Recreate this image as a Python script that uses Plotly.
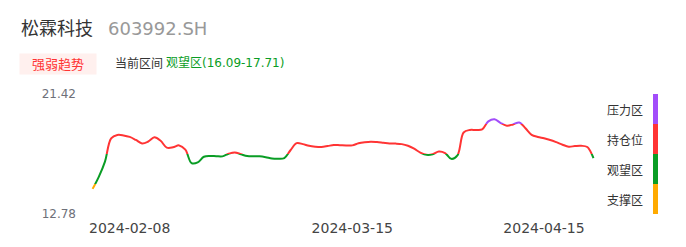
import pandas as pd
import plotly.graph_objects as go

# ---------------- data ----------------
stock_name = "松霖科技"
stock_code = "603992.SH"
badge_text = "强弱趋势"
range_label = "当前区间"
range_value = "观望区(16.09-17.71)"

dates = pd.date_range("2024-02-02", "2024-04-23", freq="D")
values = [
    14.59, 15.45, 16.55, 18.23, 18.47, 18.44, 18.33, 18.11, 17.86, 18.00,
    18.30, 18.05, 17.56, 17.58, 17.72, 17.41, 16.45, 16.50, 16.90, 16.96,
    16.94, 16.93, 17.12, 17.21, 17.08, 16.95, 16.93, 16.93, 16.87, 16.78,
    16.76, 16.81, 17.37, 17.88, 17.81, 17.69, 17.63, 17.61, 17.67, 17.75,
    17.73, 17.71, 17.72, 17.87, 17.95, 17.99, 17.96, 17.91, 17.86, 17.85,
    17.81, 17.69, 17.48, 17.20, 17.04, 17.08, 17.28, 17.17, 16.75, 17.00,
    18.65, 18.83, 18.83, 18.87, 19.45, 19.60, 19.33, 19.14, 19.23, 19.37,
    18.95, 18.48, 18.33, 18.23, 18.11, 17.95, 17.77, 17.63, 17.67, 17.69,
    17.60, 16.80,
]

# zone boundaries (bottom -> top) and names / colours
zone_bounds = [12.78, 14.94, 17.10, 19.26, 21.42]
zone_names = ["支撑区", "观望区", "持仓位", "压力区"]
zone_colors = ["#ffaa00", "#0a9d25", "#ff3434", "#a24dfa"]

y_tick_vals = zone_bounds
y_tick_text = ["12.78", "", "", "", "21.42"]
x_tick_vals = ["2024-02-08", "2024-03-15", "2024-04-15"]
x_range = ["2024-01-31 18:30", "2024-04-24 13:00"]

# ---------------- layout geometry ----------------
W, H = 686, 247
ML, MR, MT, MB = 85, 83, 94, 33
PW, PH = W - ML - MR, H - MT - MB


def px(x):
    return (x - ML) / PW


def py(y):
    return (H - MB - y) / PH


FONT = "DejaVu Sans, Noto Sans CJK SC, sans-serif"

fig = go.Figure()

ymin, ymax = zone_bounds[0], zone_bounds[-1]
layout_axes = {}
for i, (name, col) in enumerate(zip(zone_names, zone_colors)):
    lo, hi = zone_bounds[i], zone_bounds[i + 1]
    ax = f"y{i + 2}"
    fig.add_trace(go.Scatter(
        x=dates, y=values, mode="lines", xaxis="x", yaxis=ax,
        line=dict(color=col, width=2, shape="spline", smoothing=1),
        hoverinfo="skip", showlegend=False,
    ))
    layout_axes[f"yaxis{i + 2}"] = dict(
        domain=[(lo - ymin) / (ymax - ymin), (hi - ymin) / (ymax - ymin)],
        range=[lo, hi], visible=False, showgrid=False, zeroline=False,
        anchor="x", fixedrange=True,
    )
    # legend bar
    fig.add_shape(type="rect", xref="paper", yref="y", x0=px(653), x1=px(658),
                  y0=lo, y1=hi, fillcolor=col, line=dict(width=0), layer="above")
    fig.add_annotation(xref="paper", yref="y", x=px(624.5), y=(lo + hi) / 2,
                       text=name, showarrow=False, xanchor="center", yanchor="middle",
                       yshift=-1.5, font=dict(family=FONT, size=12, color="#333333"))

# dummy trace on the main axis so grid/labels show
fig.add_trace(go.Scatter(x=[dates[0]], y=[values[0]], mode="markers",
                         marker=dict(opacity=0), hoverinfo="skip", showlegend=False,
                         xaxis="x", yaxis="y"))

fig.update_layout(
    width=W, height=H,
    margin=dict(l=ML, r=MR, t=MT, b=MB),
    paper_bgcolor="white", plot_bgcolor="white",
    xaxis=dict(type="date", range=x_range, tickvals=x_tick_vals, tickformat="%Y-%m-%d",
               showgrid=False, zeroline=False, showline=False, ticks="",
               ticklabelstandoff=4,
               tickfont=dict(family=FONT, size=14, color="#444444"),
               anchor="y", fixedrange=True),
    yaxis=dict(range=[ymin, ymax], tickvals=y_tick_vals, ticktext=y_tick_text,
               showgrid=True, gridcolor="#e0e6f1", gridwidth=1, zeroline=False,
               showline=False, ticks="", ticklabelstandoff=8,
               tickfont=dict(family=FONT, size=12, color="#6e7079"),
               domain=[0, 1], fixedrange=True),
    **layout_axes,
)

# header texts
fig.add_annotation(xref="paper", yref="paper", x=px(19), y=py(29), text=stock_name,
                   showarrow=False, xanchor="left", yanchor="middle",
                   font=dict(family=FONT, size=18, color="#333333"))
fig.add_annotation(xref="paper", yref="paper", x=px(106), y=py(29), text=stock_code,
                   showarrow=False, xanchor="left", yanchor="middle",
                   font=dict(family=FONT, size=18, color="#999999"))
fig.add_annotation(xref="paper", yref="paper", x=px(58), y=py(63.5), text=badge_text,
                   showarrow=False, xanchor="center", yanchor="middle",
                   width=76, height=20, borderpad=0, bgcolor="#fff0ee",
                   font=dict(family=FONT, size=13, color="#ff3434"))
fig.add_annotation(xref="paper", yref="paper", x=px(113), y=py(63), text=range_label,
                   showarrow=False, xanchor="left", yanchor="middle",
                   font=dict(family=FONT, size=12, color="#333333"))
fig.add_annotation(xref="paper", yref="paper", x=px(164), y=py(63), text=range_value,
                   showarrow=False, xanchor="left", yanchor="middle",
                   font=dict(family=FONT, size=12, color="#0a9d25"))

fig.write_html("out.html")
